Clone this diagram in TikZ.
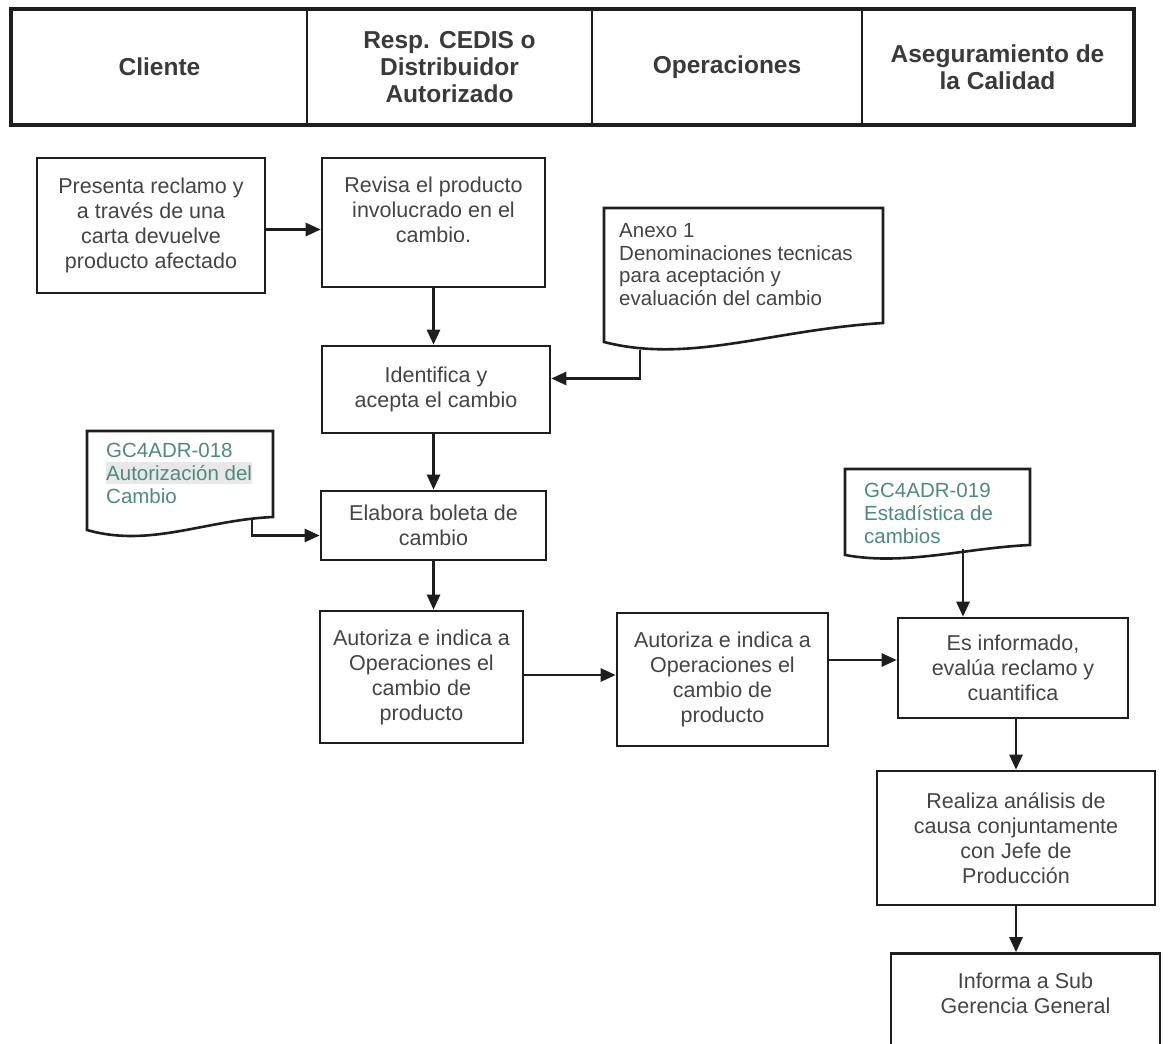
\documentclass[tikz,border=0pt]{standalone}
\usepackage{fontspec}
\setmainfont{Liberation Sans}
\usetikzlibrary{arrows.meta,calc}
\definecolor{edge}{HTML}{1E1E1E}
\definecolor{ink}{HTML}{444444}
\definecolor{docink}{HTML}{4E8A80}
\begin{document}
\begin{tikzpicture}[x=1pt,y=-1pt,
  cell/.style={draw=edge, line width=2pt, minimum width=#1, minimum height=114pt,
    inner sep=0pt, font=\fontsize{24.5}{27}\selectfont\bfseries, text=ink!85!black, align=center},
  box/.style={draw=edge, line width=2.6pt, inner sep=0pt,
    font=\fontsize{21.5}{25}\selectfont, text=ink, align=center},
  doctext/.style={anchor=north west, inner sep=0pt, align=left, text=docink,
    font=\fontsize{20.5}{22.8}\selectfont},
  doc/.style={draw=edge, line width=2.6pt, fill=white},
  flow/.style={draw=edge, line width=2.6pt, -{Triangle[length=15pt,width=13pt]}},
]
\useasboundingbox (0,0) rectangle (1174,1043);
\clip (0,0) rectangle (1174,1043);

% swimlane header
\node[cell=295pt] (hC) at (159.5,67) {Cliente};
\node[cell=285pt] (hR) at (449.5,67) {Resp. CEDIS o\\Distribuidor\\Autorizado};
\node[cell=270pt] (hO) at (727,67) {Operaciones};
\node[cell=271pt] (hA) at (997.5,67) {Aseguramiento de\\la Calidad};
\draw[edge, line width=3.6pt] (hC.north west) rectangle (hA.south east);

% process steps
\node[box, minimum width=228pt, minimum height=135pt] (b1) at (151,225.5)
  {Presenta reclamo y\\a través de una\\carta devuelve\\producto afectado};
\node[box, minimum width=223pt, minimum height=129pt] (b2) at (433.5,222.5)
  {Revisa el producto\\involucrado en el\\cambio.\\\mbox{}};
\node[box, minimum width=228pt, minimum height=87pt] (b4) at (436,389.5)
  {Identifica y\\acepta el cambio};
\node[box, minimum width=225pt, minimum height=69pt] (b6) at (433.5,525.5)
  {Elabora boleta de\\cambio};
\node[box, minimum width=203pt, minimum height=132pt] (b7) at (421.5,677)
  {Autoriza e indica a\\Operaciones el\\cambio de\\producto};
\node[box, minimum width=211pt, minimum height=133pt] (b8) at (722.5,679.5)
  {Autoriza e indica a\\Operaciones el\\cambio de\\producto};
\node[box, minimum width=230pt, minimum height=100pt] (b10) at (1013,668)
  {Es informado,\\evalúa reclamo y\\cuantifica};
\node[box, minimum width=278pt, minimum height=134pt] (b11) at (1016,838)
  {Realiza análisis de\\causa conjuntamente\\con Jefe  de\\Producción};
\node[box, minimum width=269pt, minimum height=105pt] (b12) at (1025.5,1006)
  {Informa a Sub\\Gerencia General\\\mbox{}};

% documents
\draw[doc] (604,208) -- (883,208) -- (883,323)
  .. controls (770,330) and (690,364) .. (604,342) -- cycle;
\node[doctext, text=ink] (tA) at (619,223)
  {Anexo 1\\Denominaciones tecnicas\\para aceptación y\\evaluación del cambio};
\coordinate (dA) at (640,350);

\draw[doc] (87,431) -- (273,431) -- (273,517)
  .. controls (205,520) and (150,548) .. (87,530) -- cycle;
\node[doctext] (tB) at (106,443)
  {GC4ADR-018\\\colorbox{gray!18}{\hspace*{-3pt}Autorización del\hspace*{-3pt}}\\Cambio};
\coordinate (dB) at (252,519);

\draw[doc] (845,469) -- (1030,469) -- (1030,545)
  .. controls (965,548) and (905,566) .. (845,555) -- cycle;
\node[doctext] (tC) at (864,483)
  {GC4ADR-019\\Estadística de\\cambios};
\coordinate (dC) at (963,549);

% connectors
\draw[flow] ([yshift=-4pt]b1.east) -- ([yshift=-4pt]b1.east -| b2.west);
\draw[flow] (b2.south) -- (b2.south |- b4.north);
\draw[flow] (b6.north |- b4.south) -- (b6.north);
\draw[flow] (b6.south) -- (b6.south |- b7.north);
\draw[flow] ([yshift=2pt]b7.east) -- ([yshift=2pt]b7.east -| b8.west);
\draw[flow] ([yshift=8pt]b10.west -| b8.east) -- ([yshift=8pt]b10.west);
\draw[flow] (b11.north |- b10.south) -- (b11.north);
\draw[flow] (b11.south) -- (b11.south |- b12.north);
\draw[flow] (dA) |- ([yshift=11pt]b4.east);
\draw[flow] (dB) |- ([yshift=-10pt]b6.west);
\draw[flow] (dC) -- (dC |- b10.north);
\end{tikzpicture}
\end{document}
